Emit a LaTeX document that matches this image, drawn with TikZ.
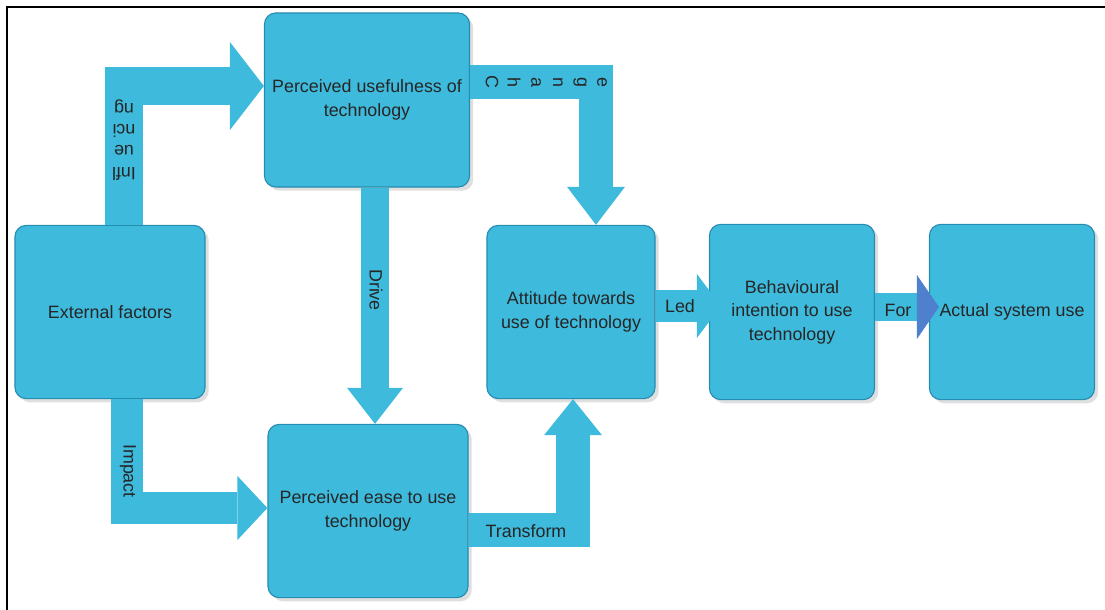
\documentclass[tikz,border=0pt]{standalone}
\usepackage{fontspec}
\setmainfont{Liberation Sans}
\usetikzlibrary{arrows.meta,calc,shadows}
\definecolor{boxblue}{RGB}{62,186,220}
\definecolor{boxedge}{RGB}{38,140,176}
\definecolor{forhead}{RGB}{78,128,205}
\tikzset{
  factor/.style = {shape=rectangle, rounded corners=8pt, draw=boxedge, fill=boxblue,
    line width=0.8pt, align=center, text=black!85, inner sep=2pt,
    font=\fontsize{12.7}{16.7}\selectfont, minimum height=4.33cm,
    drop shadow={opacity=0.25}},
  flow/.style = {draw=boxblue, line join=miter},
  tag/.style = {font=\fontsize{12.7}{15}\selectfont, text=black!85, inner sep=0pt, align=center},
}
\begin{document}
\begin{tikzpicture}[x=0.025cm, y=0.025cm]
  \useasboundingbox (0,0) rectangle (1105,-610);
  \draw[line width=2pt] (7,-610) -- (7,-7) -- (1105,-7);

  % the factors
  \node[factor, minimum width=4.75cm] (ext) at (110,-312) {External factors};
  \node[factor, minimum width=5.125cm, minimum height=4.35cm] (pu) at (367,-100)
    {Perceived usefulness of\\technology};
  \node[factor, minimum width=5cm] (pe) at (368,-511) {Perceived ease to use\\technology};
  \node[factor, minimum width=4.2cm] (att) at (571,-312) {Attitude towards\\use of technology};
  \node[factor, minimum width=4.125cm, minimum height=4.38cm] (beh) at (792,-312)
    {Behavioural\\intention to use\\technology};
  \node[factor, minimum width=4.125cm, minimum height=4.38cm] (act) at (1012,-312)
    {Actual system use};

  % block arrows
  \draw[flow, line width=0.95cm, -{Triangle[length=0.85cm,width=2.2cm,line width=0pt]}]
    ($(ext.north)+(14,0)$) |- ($(pu.west)+(0,14)$);
  \node[tag, rotate=180] (infl) at (124,-140) {Infl\\ue\\nci\\ng};

  \draw[flow, line width=0.85cm, -{Triangle[length=0.95cm,width=1.45cm,line width=0pt]}]
    ($(pu.east)+(0,18)$) -| ($(att.north)+(25,0)$);
  \foreach \ch [count=\i] in {C,h,a,n,g,e}
    \node[tag, rotate=-90] (chg\i) at (470+22*\i,-82) {\ch};

  \draw[flow, line width=0.7cm, -{Triangle[length=0.9cm,width=1.4cm,line width=0pt]}]
    ($(pu.south)+(8,0)$) -- ($(pu.south |- pe.north)+(8,0)$);
  \node[tag, rotate=-90] (drive) at (376,-290) {Drive};

  \draw[flow, line width=0.8cm, -{Triangle[length=0.75cm,width=1.6cm,line width=0pt]}]
    ($(ext.south)+(17,0)$) |- ($(pe.west)+(0,3)$);
  \node[tag, rotate=-90] (impact) at (128,-471) {Impact};

  \draw[flow, line width=0.85cm, -{Triangle[length=0.9cm,width=1.45cm,line width=0pt]}]
    ($(pe.east)+(0,-19)$) -| ($(att.south)+(2,0)$);
  \node[tag] (transf) at (526,-531) {Transform};

  \draw[flow, line width=0.8cm, -{Triangle[length=0.6cm,width=1.6cm,line width=0pt]}]
    ($(att.east)+(0,6)$) -- ($(beh.west)+(12,6)$);
  \node[tag] (led) at (680,-306) {Led};

  \draw[flow, line width=0.7cm, -{Triangle[length=0.55cm,width=1.6cm,line width=0pt,color=forhead]}]
    ($(beh.east)+(0,5)$) -- ($(act.west)+(10,5)$);
  \node[tag] (for) at (898,-310) {For};
\end{tikzpicture}
\end{document}
